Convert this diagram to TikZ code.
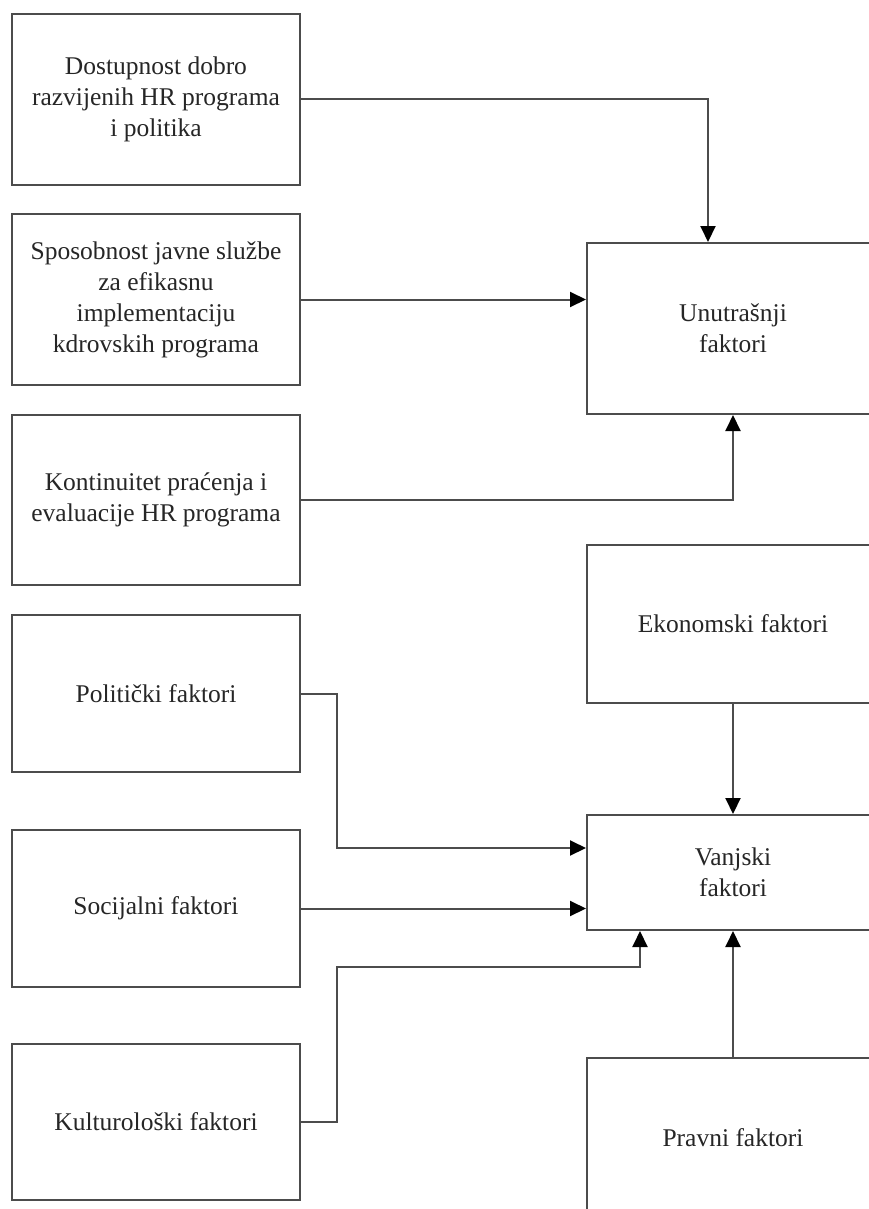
\documentclass[tikz,border=0pt]{standalone}
\usepackage{fontspec}
\setmainfont{Liberation Serif}
\usetikzlibrary{arrows.meta,calc}
\begin{document}
\begin{tikzpicture}[x=1pt,y=-1pt,
  box/.style={draw=black!70, line width=2pt, rectangle, inner sep=0pt, align=center,
    font=\fontsize{25.5}{31}\selectfont, text=black!85},
  lbox/.style={box, minimum width=288pt},
  rbox/.style={box, minimum width=292pt},
  arr/.style={draw=black!70, line width=2pt, -{Triangle[length=16pt,width=15pt,fill=black,color=black]}}
]
\useasboundingbox (0,0) rectangle (869,1209);
\clip (0,0) rectangle (869,1209);
\fill[white] (0,0) rectangle (869,1209);

\node[lbox, minimum height=171pt] (b1) at (156,99.5) {Dostupnost dobro\\razvijenih HR programa\\i politika};
\node[lbox, minimum height=171pt] (b2) at (156,299.5) {Sposobnost javne službe\\za efikasnu\\implementaciju\\kdrovskih programa};
\node[lbox, minimum height=170pt] (b3) at (156,500) {Kontinuitet praćenja i\\evaluacije HR programa};
\node[lbox, minimum height=157pt] (b4) at (156,693.5) {Politički faktori};
\node[lbox, minimum height=157pt] (b5) at (156,908.5) {Socijalni faktori};
\node[lbox, minimum height=156pt] (b6) at (156,1122) {Kulturološki faktori};

\node[rbox, minimum height=171pt] (u) at (733,328.5) {Unutrašnji\\faktori};
\node[rbox, minimum height=158pt] (e) at (733,624) {Ekonomski faktori};
\node[rbox, minimum height=115pt] (v) at (733,872.5) {Vanjski\\faktori};
\node[rbox, minimum height=160pt] (p) at (733,1138) {Pravni faktori};

\draw[arr] (b1.east) -| ([xshift=-25pt]u.north);
\draw[arr] (b2.east) -- (b2.east -| u.west);
\draw[arr] (b3.east) -| (u.south);
\draw[arr] (b4.east) -- ++(36,0) |- ([yshift=24.5pt]v.west);
\draw[arr] (b5.east) -- (b5.east -| v.west);
\draw[arr] (b6.east) -- ++(36,0) |- ([xshift=-93pt,yshift=-36pt]v.south) -- ([xshift=-93pt]v.south);
\draw[arr] (e.south) -- (v.north);
\draw[arr] (p.north) -- (v.south);
\end{tikzpicture}
\end{document}
